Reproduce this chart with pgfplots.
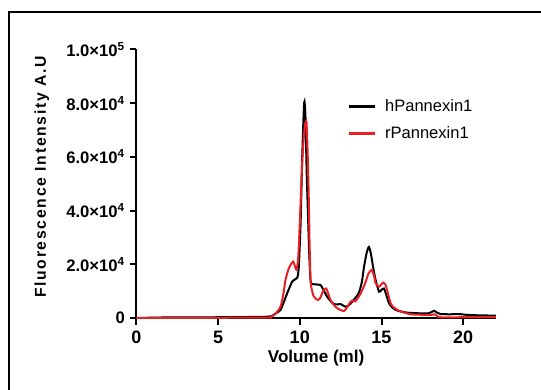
\documentclass[border=0pt]{standalone}
\usepackage{pgfplots}
\pgfplotsset{compat=1.18}
\usepackage{fontspec}
\setmainfont{Liberation Sans}
\newfontfamily\ylabfont[LetterSpace=11]{Liberation Sans}
\definecolor{myred}{RGB}{232,32,36}
\begin{document}
\begin{tikzpicture}
\useasboundingbox (-102.2pt,-53.25pt) rectangle (303.5pt,238.5pt);
\draw[line width=1.8pt] (-95.5pt,-60pt) -- (-95.5pt,229.5pt) -- (310pt,229.5pt);
\begin{axis}[
  at={(0pt,0pt)}, anchor=south west,
  scale only axis, width=269.7pt, height=201.4pt,
  xmin=0, xmax=22, ymin=0, ymax=100000,
  axis x line*=bottom, axis y line*=left,
  axis line style={line width=1.5pt, -},
  xtick={0,5,10,15,20},
  ytick={0,20000,40000,60000,80000,100000},
  yticklabels={0, 2.0×10\textsuperscript{4}, 4.0×10\textsuperscript{4}, 6.0×10\textsuperscript{4}, 8.0×10\textsuperscript{4}, 1.0×10\textsuperscript{5}},
  scaled y ticks=false,
  /pgf/number format/assume math mode=true,
  tick style={line width=1.5pt, black},
  major tick length=5pt,
  tick align=outside,
  ticklabel style={font=\bfseries\fontsize{12.5}{14}\selectfont},
  xticklabel style={font=\bfseries\fontsize{13.5}{15}\selectfont, yshift=-1pt},
  xlabel={Volume (ml)},
  xlabel style={font=\bfseries\fontsize{12.8}{15}\selectfont, yshift=2pt},
  ylabel={Fluorescence Intensity A.U},
  ylabel style={font=\ylabfont\bfseries\fontsize{11.8}{14}\selectfont, yshift=6pt, xshift=5pt},
  legend style={draw=none, fill=none, at={(0.575,0.835)}, anchor=north west,
    font=\fontsize{12.4}{14}\selectfont, row sep=6pt,
    /tikz/every odd column/.append style={column sep=5pt}},
  legend cell align=left,
  legend image code/.code={\draw[#1, line width=1.8pt] (0pt,0pt) -- (19.5pt,0pt);},
]
\addplot[black, line width=1.5pt, smooth, tension=0.4] coordinates {
(0,0) (1.5,200) (5,300) (7,400) (8,500) (8.3,800) (8.6,2000) (8.82,3000) (9.0,5500)
(9.23,9200) (9.53,13500) (9.74,14500) (9.85,15000) (9.94,19000) (10.05,35000)
(10.15,60000) (10.25,78000) (10.29,80600) (10.35,75000) (10.42,55000) (10.5,39000)
(10.58,24000) (10.66,14000) (10.76,12700) (11.0,12500) (11.27,12300) (11.45,10500)
(11.68,7900) (11.9,6200) (12.09,5200) (12.3,5100) (12.5,5200) (12.8,4200) (13.0,4800)
(13.2,6000) (13.6,9200) (13.8,13500) (13.93,19000) (14.1,24500) (14.23,26500)
(14.35,24000) (14.5,18500) (14.64,14200) (14.85,9800) (15.0,10500) (15.15,11000)
(15.3,8500) (15.46,5500) (15.65,4000) (15.87,3000) (16.2,2400) (16.59,2000)
(17.2,1800) (17.8,1700) (18.05,2200) (18.22,2700) (18.4,2000) (18.6,1500)
(19.2,1400) (19.7,1500) (20.2,1200) (21,1000) (22,900)
};
\addlegendentry{hPannexin1}
\addplot[myred, line width=1.5pt, smooth, tension=0.4] coordinates {
(0,0) (5,100) (8,150) (8.2,300) (8.5,1500) (8.82,4200) (9.0,9000) (9.12,14000)
(9.3,18000) (9.43,19700) (9.6,21000) (9.72,19000) (9.8,18000) (9.9,22000)
(10.0,35000) (10.15,58000) (10.3,71000) (10.41,73000) (10.48,62000) (10.55,45000)
(10.6,28000) (10.66,14000) (10.76,10000) (10.86,8000) (11.1,6700) (11.25,7500)
(11.37,9200) (11.5,10800) (11.62,11000) (11.75,9000) (11.88,6700) (12.1,4800)
(12.3,3600) (12.7,2600) (12.9,4000) (13.1,6000) (13.25,6600) (13.4,6200)
(13.73,9200) (14.0,13000) (14.2,16500) (14.4,17900) (14.55,15500) (14.64,13000)
(14.85,11700) (15.1,13200) (15.25,12300) (15.4,9000) (15.56,5500) (15.75,4000)
(15.98,3000) (16.4,2000) (16.8,1400) (17.5,1200) (18.0,1100) (18.22,1400)
(18.4,800) (18.6,300) (20,300) (22,300)
};
\addlegendentry{rPannexin1}
\end{axis}
\end{tikzpicture}
\end{document}
